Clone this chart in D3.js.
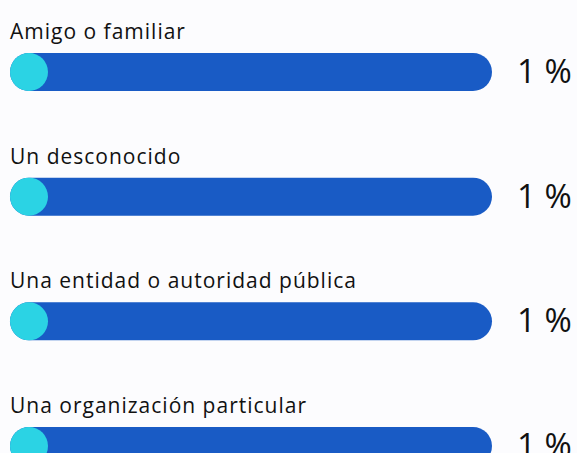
<!DOCTYPE html>
<html>
<head>
<meta charset="utf-8">
<script src="https://cdn.jsdelivr.net/npm/d3@7"></script>
<style>
  html, body { margin: 0; padding: 0; background: #fcfcfe; }
  svg { display: block; }
  text { font-family: "Open Sans", "Noto Sans", sans-serif; fill: #111; }
</style>
</head>
<body>
<script>
const width = 577;
const height = 453;

const categories = ["Amigo o familiar", "Un desconocido", "Una entidad o autoridad pública", "Una organización particular"];
const values = [1, 1, 1, 1];
const valueLabels = ["1 %", "1 %", "1 %", "1 %"];

const barH = 38;

const svg = d3.select("body")
    .append("svg")
    .attr("width", width)
    .attr("height", height);

const x = d3.scaleLinear()
    .domain([0, 100])
    .range([10, 492]);

const y = d3.scalePoint()
    .domain(categories)
    .range([53, 427]);

const rows = svg.selectAll("g.row")
    .data(categories)
    .enter()
    .append("g")
    .attr("class", "row")
    .attr("transform", d => `translate(0, ${y(d)})`);

// category label above each bar
rows.append("text")
    .attr("x", 10)
    .attr("y", -14)
    .attr("font-size", 21)
    .attr("letter-spacing", 1)
    .text(d => d);

// full track
rows.append("rect")
    .attr("x", x(0))
    .attr("y", 0)
    .attr("width", x(100) - x(0))
    .attr("height", barH)
    .attr("rx", barH / 2)
    .attr("fill", "#195bc5");

// value part, never narrower than a circle
rows.append("rect")
    .attr("x", x(0))
    .attr("y", 0)
    .attr("width", (d, i) => Math.max(barH, x(values[i]) - x(0)))
    .attr("height", barH)
    .attr("rx", barH / 2)
    .attr("fill", "#2bd3e4");

rows.append("text")
    .attr("x", 517)
    .attr("y", barH / 2 + 11)
    .attr("font-size", 33)
    .text((d, i) => valueLabels[i]);
</script>
</body>
</html>
